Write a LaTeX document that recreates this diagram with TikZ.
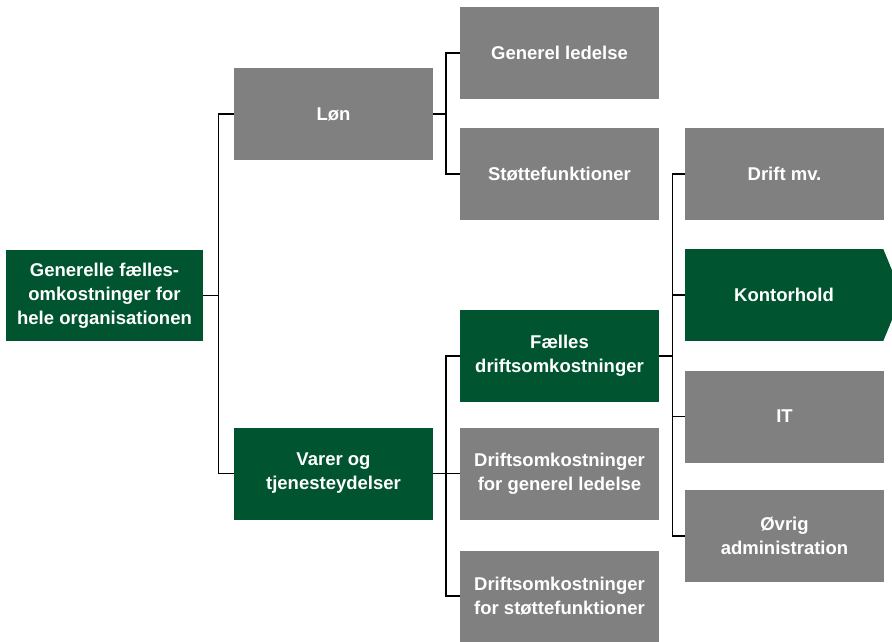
\documentclass[tikz,border=0pt]{standalone}
\usepackage{fontspec}
\setmainfont{Liberation Sans}
\definecolor{boxgreen}{RGB}{0,84,48}
\definecolor{boxgray}{RGB}{128,128,128}
\begin{document}
\begin{tikzpicture}[x=1pt,y=1pt,
  box/.style={rectangle, inner sep=0pt, minimum width=199pt, minimum height=92pt,
    align=center, text=white, font=\fontsize{18.5}{24}\selectfont\bfseries},
  graybox/.style={box, fill=boxgray},
  greenbox/.style={box, fill=boxgreen},
  link/.style={draw=black, line width=1.2pt}]
\useasboundingbox (0,0) rectangle (892,-641);

% level 0
\node[greenbox, minimum width=197pt, minimum height=91pt] (root) at (104.5,-295.5)
  {Generelle fælles-\\omkostninger for\\hele organisationen};

% level 1
\node[graybox]  (lon)   at (333.5,-114)   {Løn};
\node[greenbox] (varer) at (333.5,-473.5) {Varer og\\tjenesteydelser};

% level 2
\node[graybox]  (genled)    at (559.5,-53)    {Generel ledelse};
\node[graybox]  (stotte)    at (559.5,-174)   {Støttefunktioner};
\node[greenbox] (faelles)   at (559.5,-356)   {Fælles\\driftsomkostninger};
\node[graybox]  (driftgen)  at (559.5,-473.5) {Driftsomkostninger\\for generel ledelse};
\node[graybox, minimum height=91pt] (driftstot) at (559.5,-596)
  {Driftsomkostninger\\for støttefunktioner};

% level 3
\node[graybox]  (driftmv) at (784.5,-174)   {Drift mv.};
\node[greenbox, minimum width=198pt] (kontor) at (784,-295) {Kontorhold};
\fill[boxgreen] (kontor.north east) -- ([xshift=19pt]kontor.east) -- (kontor.south east) -- cycle;
\node[graybox]  (it)      at (784.5,-416.5) {IT};
\node[graybox]  (ovrig)   at (784.5,-536)   {Øvrig\\administration};

% connector buses
\coordinate (busA) at (218.5,-295.5);
\coordinate (busB) at (446,-114);
\coordinate (busC) at (446,-473.5);
\coordinate (busD) at (672.5,-356);

\draw[link] (root.east) -- (busA);
\draw[link] (busA) |- (lon.west);
\draw[link] (busA) |- (varer.west);

\draw[link] (lon.east) -- (busB);
\draw[link] (busB) |- (genled.west);
\draw[link] (busB) |- (stotte.west);

\draw[link] (varer.east) -- (busC);
\draw[link] (busC) |- (faelles.west);
\draw[link] (busC) |- (driftgen.west);
\draw[link] (busC) |- (driftstot.west);

\draw[link] (faelles.east) -- (busD);
\draw[link] (busD) |- (driftmv.west);
\draw[link] (busD) |- (kontor.west);
\draw[link] (busD) |- (it.west);
\draw[link] (busD) |- (ovrig.west);
\end{tikzpicture}
\end{document}
